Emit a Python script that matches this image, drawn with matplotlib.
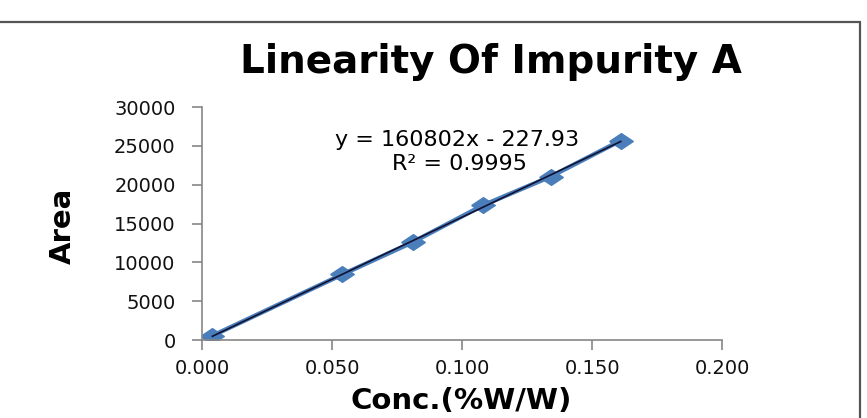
import numpy as np
import matplotlib
matplotlib.use("Agg")
import matplotlib.pyplot as plt
from matplotlib.patches import Rectangle

# data
conc = [0.004, 0.054, 0.081, 0.108, 0.134, 0.161]
area = [550, 8450, 12600, 17350, 21050, 25700]
x_ticks = [0.0, 0.05, 0.10, 0.15, 0.20]
x_labels = ["0.000", "0.050", "0.100", "0.150", "0.200"]
y_ticks = [0, 5000, 10000, 15000, 20000, 25000, 30000]
eq_text = "y = 160802x - 227.93"
r2_text = "R² = 0.9995"

fig = plt.figure(figsize=(8.67, 4.18), dpi=100)
ax = fig.add_axes([0.233, 0.1866, 0.600, 0.557])

# outer chart border (bottom runs off the image)
fig.patches.append(Rectangle((-0.002, -0.1), 0.994, 1.048, transform=fig.transFigure,
                             fill=False, edgecolor="#555555", linewidth=1.6))

# wide diamond like the excel marker
diamond = [(-1.5, 0), (0, 1), (1.5, 0), (0, -1), (-1.5, 0)]
blue = "#4A7EBB"
ax.plot(conc, area, color=blue, linewidth=3.2, marker=diamond, markersize=17,
        markerfacecolor=blue, markeredgecolor=blue, zorder=2)

slope, icpt = np.polyfit(conc, area, 1)
xt = np.array([conc[0], conc[-1]])
ax.plot(xt, slope * xt + icpt, color="#111133", linewidth=1.2, zorder=3)

ax.set_xlim(0, 0.2)
ax.set_ylim(0, 30000)
ax.set_xticks(x_ticks)
ax.set_xticklabels(x_labels)
ax.set_yticks(y_ticks)

for s in ["top", "right"]:
    ax.spines[s].set_visible(False)
for s in ["left", "bottom"]:
    ax.spines[s].set_color("#868686")
    ax.spines[s].set_linewidth(1.2)
ax.tick_params(axis="both", colors="#868686", labelcolor="#111111", labelsize=14,
               length=7, width=1.2)
ax.tick_params(axis="y", pad=12)
ax.tick_params(axis="x", pad=7)

ax.text(0.49, 0.86, eq_text, transform=ax.transAxes, ha="center", va="center", fontsize=16)
ax.text(0.495, 0.755, r2_text, transform=ax.transAxes, ha="center", va="center", fontsize=16)

fig.text(0.566, 0.852, "Linearity Of Impurity A", ha="center", va="center",
         fontsize=28, fontweight="bold")
fig.text(0.532, 0.04, "Conc.(%W/W)", ha="center", va="center",
         fontsize=21, fontweight="bold")
fig.text(0.072, 0.46, "Area", ha="center", va="center", rotation=90,
         fontsize=21, fontweight="bold")

fig.savefig("out.png", dpi=100)
